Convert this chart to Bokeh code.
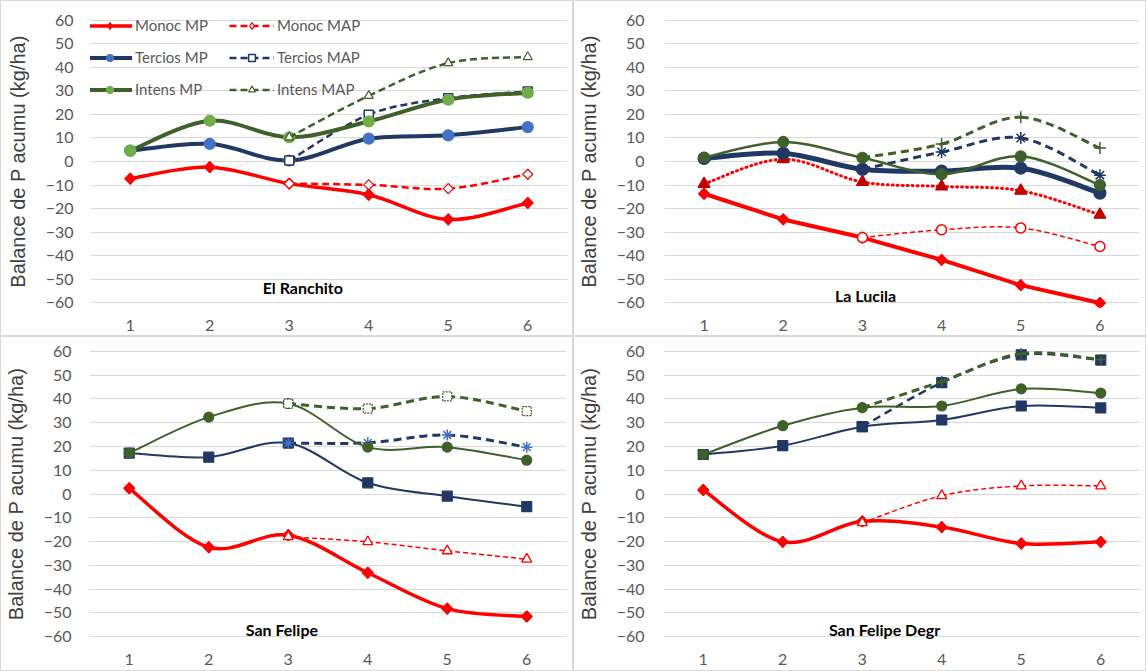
import math
from bokeh.plotting import figure
from bokeh.models import Range1d, FixedTicker, Label, Legend, LegendItem
from bokeh.layouts import column, row
from bokeh.embed import file_html
from bokeh.resources import INLINE

NaN = float("nan")

# ---------------- data ----------------
X = [1, 2, 3, 4, 5, 6]
X_LABELS = ["1", "2", "3", "4", "5", "6"]
Y_TICKS = [-60, -50, -40, -30, -20, -10, 0, 10, 20, 30, 40, 50, 60]
PANEL_TITLES = ["El Ranchito", "La Lucila", "San Felipe", "San Felipe Degr"]
Y_TITLE = "Balance de P acumu (kg/ha)"

# El Ranchito
ranchito_monoc_mp = [-7.3, -2.4, -9.4, -14.1, -24.6, -17.6]
ranchito_monoc_map = [NaN, NaN, -9.4, -9.9, -11.5, -5.4]
ranchito_tercios_mp = [4.6, 7.5, 0.4, 9.7, 11.1, 14.6]
ranchito_tercios_map = [NaN, NaN, 0.4, 19.9, 26.9, 29.7]
ranchito_intens_mp = [4.6, 17.3, 10.3, 17.0, 26.3, 29.2]
ranchito_intens_map = [NaN, NaN, 10.3, 27.9, 41.8, 44.4]

# La Lucila
lucila_monoc_mp = [-13.7, -24.6, -32.3, -41.8, -52.5, -60.1]
lucila_monoc_b = [-9.5, 1.0, -8.7, -10.6, -12.4, -22.6]
lucila_monoc_map = [NaN, NaN, -32.3, -29.0, -28.2, -36.1]
lucila_tercios_mp = [1.3, 3.5, -3.3, -4.1, -2.8, -13.4]
lucila_tercios_map = [NaN, NaN, -3.3, 4.0, 10.0, -5.8]
lucila_intens_mp = [1.7, 8.3, 1.6, -5.4, 2.2, -10.0]
lucila_intens_map = [NaN, NaN, 1.6, 7.4, 18.8, 5.7]

# San Felipe
felipe_monoc_mp = [2.4, -22.4, -17.3, -33.1, -48.2, -51.5]
felipe_monoc_map = [NaN, NaN, -18.0, -20.1, -23.9, -27.4]
felipe_tercios_mp = [17.2, 15.5, 21.4, 4.7, -0.9, -5.3]
felipe_tercios_map = [NaN, NaN, 21.4, 21.5, 24.8, 19.7]
felipe_intens_mp = [17.2, 32.3, 38.0, 19.7, 19.7, 14.2]
felipe_intens_map = [NaN, NaN, 38.0, 35.9, 41.0, 34.8]

# San Felipe Degr
degr_monoc_mp = [1.7, -20.1, -11.5, -13.9, -20.8, -20.1]
degr_monoc_map = [NaN, NaN, -12.1, -0.7, 3.4, 3.4]
degr_tercios_mp = [16.6, 20.3, 28.3, 31.1, 37.0, 36.2]
degr_tercios_map = [NaN, NaN, 28.3, 46.8, 58.5, 56.3]
degr_intens_mp = [16.6, 28.7, 36.3, 37.0, 44.2, 42.4]
degr_intens_map = [NaN, NaN, 36.3, 47.3, 59.0, 56.5]

# ---------------- styles ----------------
RED = "#FF0000"
DARKRED = "#C00000"
NAVY = "#203864"
BLUE = "#4472C4"
GREEN = "#3E6129"
LGREEN = "#70AD47"
GRID = "#D9D9D9"
TICK_FONT = "Lato"


def smooth_segments(xs, ys):
    pts = [(x, y) for x, y in zip(xs, ys) if not (isinstance(y, float) and math.isnan(y))]
    n = len(pts)
    seg = dict(x0=[], y0=[], x1=[], y1=[], cx0=[], cy0=[], cx1=[], cy1=[])
    for i in range(n - 1):
        p0 = pts[i - 1] if i > 0 else pts[i]
        p1 = pts[i]
        p2 = pts[i + 1]
        p3 = pts[i + 2] if i + 2 < n else pts[i + 1]
        seg["x0"].append(p1[0]); seg["y0"].append(p1[1])
        seg["x1"].append(p2[0]); seg["y1"].append(p2[1])
        seg["cx0"].append(p1[0] + (p2[0] - p0[0]) / 6.0)
        seg["cy0"].append(p1[1] + (p2[1] - p0[1]) / 6.0)
        seg["cx1"].append(p2[0] - (p3[0] - p1[0]) / 6.0)
        seg["cy1"].append(p2[1] - (p3[1] - p1[1]) / 6.0)
    return seg


def add_series(p, ys, color, width, dash, marker, msize, mfill, mline, smooth=True,
               cap="butt", mdash="solid", mwidth=1.2):
    if smooth:
        seg = smooth_segments(X, ys)
        lr = p.bezier(x0=seg["x0"], y0=seg["y0"], x1=seg["x1"], y1=seg["y1"],
                      cx0=seg["cx0"], cy0=seg["cy0"], cx1=seg["cx1"], cy1=seg["cy1"],
                      line_color=color, line_width=width, line_dash=dash, line_cap=cap)
    else:
        lr = p.line(X, ys, line_color=color, line_width=width, line_dash=dash,
                    line_join="round", line_cap=cap)
    if marker == "diamond":
        # legend proxy (Bokeh diamond, hidden beneath), then an Excel-style diamond on top
        proxy = p.scatter(X, ys, marker="diamond", size=msize, fill_color=mfill,
                          line_color=mline, line_width=mwidth)
        p.scatter(X, ys, marker="square", size=msize / 1.414, angle=math.pi / 4,
                  fill_color=mfill, line_color=mline, line_width=mwidth)
        return lr, proxy
    mr = p.scatter(X, ys, marker=marker, size=msize, fill_color=mfill,
                   line_color=mline, line_width=mwidth, line_dash=mdash)
    return lr, mr


def make_panel(width, height, left, right, top, bottom, ystand, ytitle_stand):
    p = figure(width=width, height=height, output_backend="svg", toolbar_location=None,
               x_range=Range1d(0.5, 6.5), y_range=Range1d(-62, 62),
               min_border_left=left, min_border_right=right,
               min_border_top=top, min_border_bottom=bottom,
               background_fill_color="white", border_fill_color="white")
    p.outline_line_color = None
    p.styles = {"border": "1px solid #D9D9D9", "box-sizing": "border-box"}
    p.xgrid.grid_line_color = None
    p.ygrid.grid_line_color = GRID
    p.ygrid.grid_line_width = 1.2
    p.ygrid.ticker = FixedTicker(ticks=Y_TICKS)
    p.yaxis.ticker = FixedTicker(ticks=Y_TICKS)
    p.xaxis.ticker = FixedTicker(ticks=X)
    p.xaxis.major_label_overrides = {x: lab for x, lab in zip(X, X_LABELS)}
    for ax in (p.xaxis, p.yaxis):
        ax.axis_line_color = None
        ax.major_tick_line_color = None
        ax.minor_tick_line_color = None
        ax.major_tick_out = 0
        ax.major_tick_in = 0
        ax.minor_tick_out = 0
        ax.minor_tick_in = 0
        ax.major_label_text_font = TICK_FONT
        ax.major_label_text_font_size = "16px"
        ax.major_label_text_color = "#595959"
    p.xaxis.major_label_standoff = 12
    p.yaxis.major_label_standoff = ystand
    p.yaxis.axis_label = Y_TITLE
    p.yaxis.axis_label_text_font = "Liberation Sans"
    p.yaxis.axis_label_text_font_style = "normal"
    p.yaxis.axis_label_text_font_size = "20px"
    p.yaxis.axis_label_text_color = "#404040"
    p.yaxis.axis_label_standoff = ytitle_stand
    return p


def add_title(p, text, x, y):
    p.add_layout(Label(x=x, y=y, text=text, text_font=TICK_FONT, text_font_style="bold",
                       text_font_size="16px", text_color="#000000",
                       text_align="center", text_baseline="middle"))


# ---------- panel 1: El Ranchito ----------
p1 = make_panel(573, 336, 89, 7, 14, 30, 17, 14)
r1 = add_series(p1, ranchito_monoc_mp, RED, 3.5, "solid", "diamond", 11, RED, RED)
r2 = add_series(p1, ranchito_monoc_map, RED, 2.5, "7 4", "diamond", 10, "white", RED)
r3 = add_series(p1, ranchito_tercios_mp, NAVY, 4, "solid", "circle", 11, BLUE, BLUE)
r4 = add_series(p1, ranchito_tercios_map, NAVY, 2.5, "7 4", "square", 9, "white", NAVY, mwidth=1.5)
r5 = add_series(p1, ranchito_intens_mp, GREEN, 4, "solid", "circle", 11, LGREEN, LGREEN)
r6 = add_series(p1, ranchito_intens_map, GREEN, 2.5, "7 4", "triangle", 9, "white", GREEN)
legend = Legend(items=[
    LegendItem(label="Monoc MP", renderers=list(r1)),
    LegendItem(label="Tercios MP", renderers=list(r3)),
    LegendItem(label="Intens MP", renderers=list(r5)),
    LegendItem(label="Monoc MAP", renderers=list(r2)),
    LegendItem(label="Tercios MAP", renderers=list(r4)),
    LegendItem(label="Intens MAP", renderers=list(r6)),
], ncols=2, location=(-3, 209), background_fill_alpha=0, border_line_color=None,
    padding=0, margin=0, spacing=14, glyph_width=45, glyph_height=17, label_height=17,
    label_width=80, label_standoff=3, label_text_font=TICK_FONT,
    label_text_font_size="15px", label_text_color="#595959")
p1.add_layout(legend)
add_title(p1, PANEL_TITLES[0], 3.17, -53.5)

# ---------- panel 2: La Lucila ----------
p2 = make_panel(573, 336, 87, 8, 14, 30, 20, 14)
add_series(p2, lucila_monoc_mp, RED, 4, "solid", "diamond", 11, RED, RED, smooth=False)
add_series(p2, lucila_monoc_b, RED, 3, "1 4", "triangle", 12, DARKRED, DARKRED, cap="round")
add_series(p2, lucila_monoc_map, RED, 1.5, "5 3", "circle", 10, "white", RED, mwidth=1.5)
add_series(p2, lucila_tercios_mp, NAVY, 5, "solid", "circle", 12, NAVY, NAVY)
add_series(p2, lucila_tercios_map, NAVY, 3, "8 5", "asterisk", 12, None, NAVY, mwidth=1.5)
add_series(p2, lucila_intens_mp, GREEN, 2.5, "solid", "circle", 11, GREEN, GREEN)
add_series(p2, lucila_intens_map, GREEN, 3, "8 5", "cross", 12, None, GREEN, mwidth=1.5)
add_title(p2, PANEL_TITLES[1], 3.04, -57.0)

# ---------- panel 3: San Felipe ----------
p3 = make_panel(573, 335, 87, 8, 9, 31, 18, 14)
add_series(p3, felipe_monoc_mp, RED, 3.5, "solid", "diamond", 11, RED, RED)
add_series(p3, felipe_monoc_map, RED, 1.5, "5 3", "triangle", 10, "white", RED, mwidth=1.3)
add_series(p3, felipe_tercios_mp, NAVY, 2, "solid", "square", 10, NAVY, NAVY)
add_series(p3, felipe_tercios_map, NAVY, 3, "8 5", "asterisk", 11, None, BLUE, mwidth=1.5)
add_series(p3, felipe_intens_mp, GREEN, 2, "solid", "circle", 10, GREEN, GREEN)
add_series(p3, felipe_intens_map, GREEN, 3, "8 5", "square", 9, "white", GREEN, mdash="2 1")
add_title(p3, PANEL_TITLES[2], 2.92, -57.0)

# ---------- panel 4: San Felipe Degr ----------
p4 = make_panel(573, 335, 85, 7, 9, 31, 19, 14)
add_series(p4, degr_monoc_mp, RED, 3.5, "solid", "diamond", 11, RED, RED)
add_series(p4, degr_monoc_map, RED, 1.5, "5 3", "triangle", 10, "white", RED, mwidth=1.3)
add_series(p4, degr_tercios_mp, NAVY, 2, "solid", "square", 10, NAVY, NAVY)
add_series(p4, degr_tercios_map, NAVY, 2.5, "8 5", "square", 10, NAVY, NAVY)
add_series(p4, degr_intens_mp, GREEN, 2, "solid", "circle", 10, GREEN, GREEN)
add_series(p4, degr_intens_map, GREEN, 3, "8 5", "cross", 11, None, GREEN, mwidth=1.5)
add_title(p4, PANEL_TITLES[3], 3.28, -57.0)

layout = column(row(p1, p2), row(p3, p4))
open("out.html", "w").write(file_html(layout, INLINE))
